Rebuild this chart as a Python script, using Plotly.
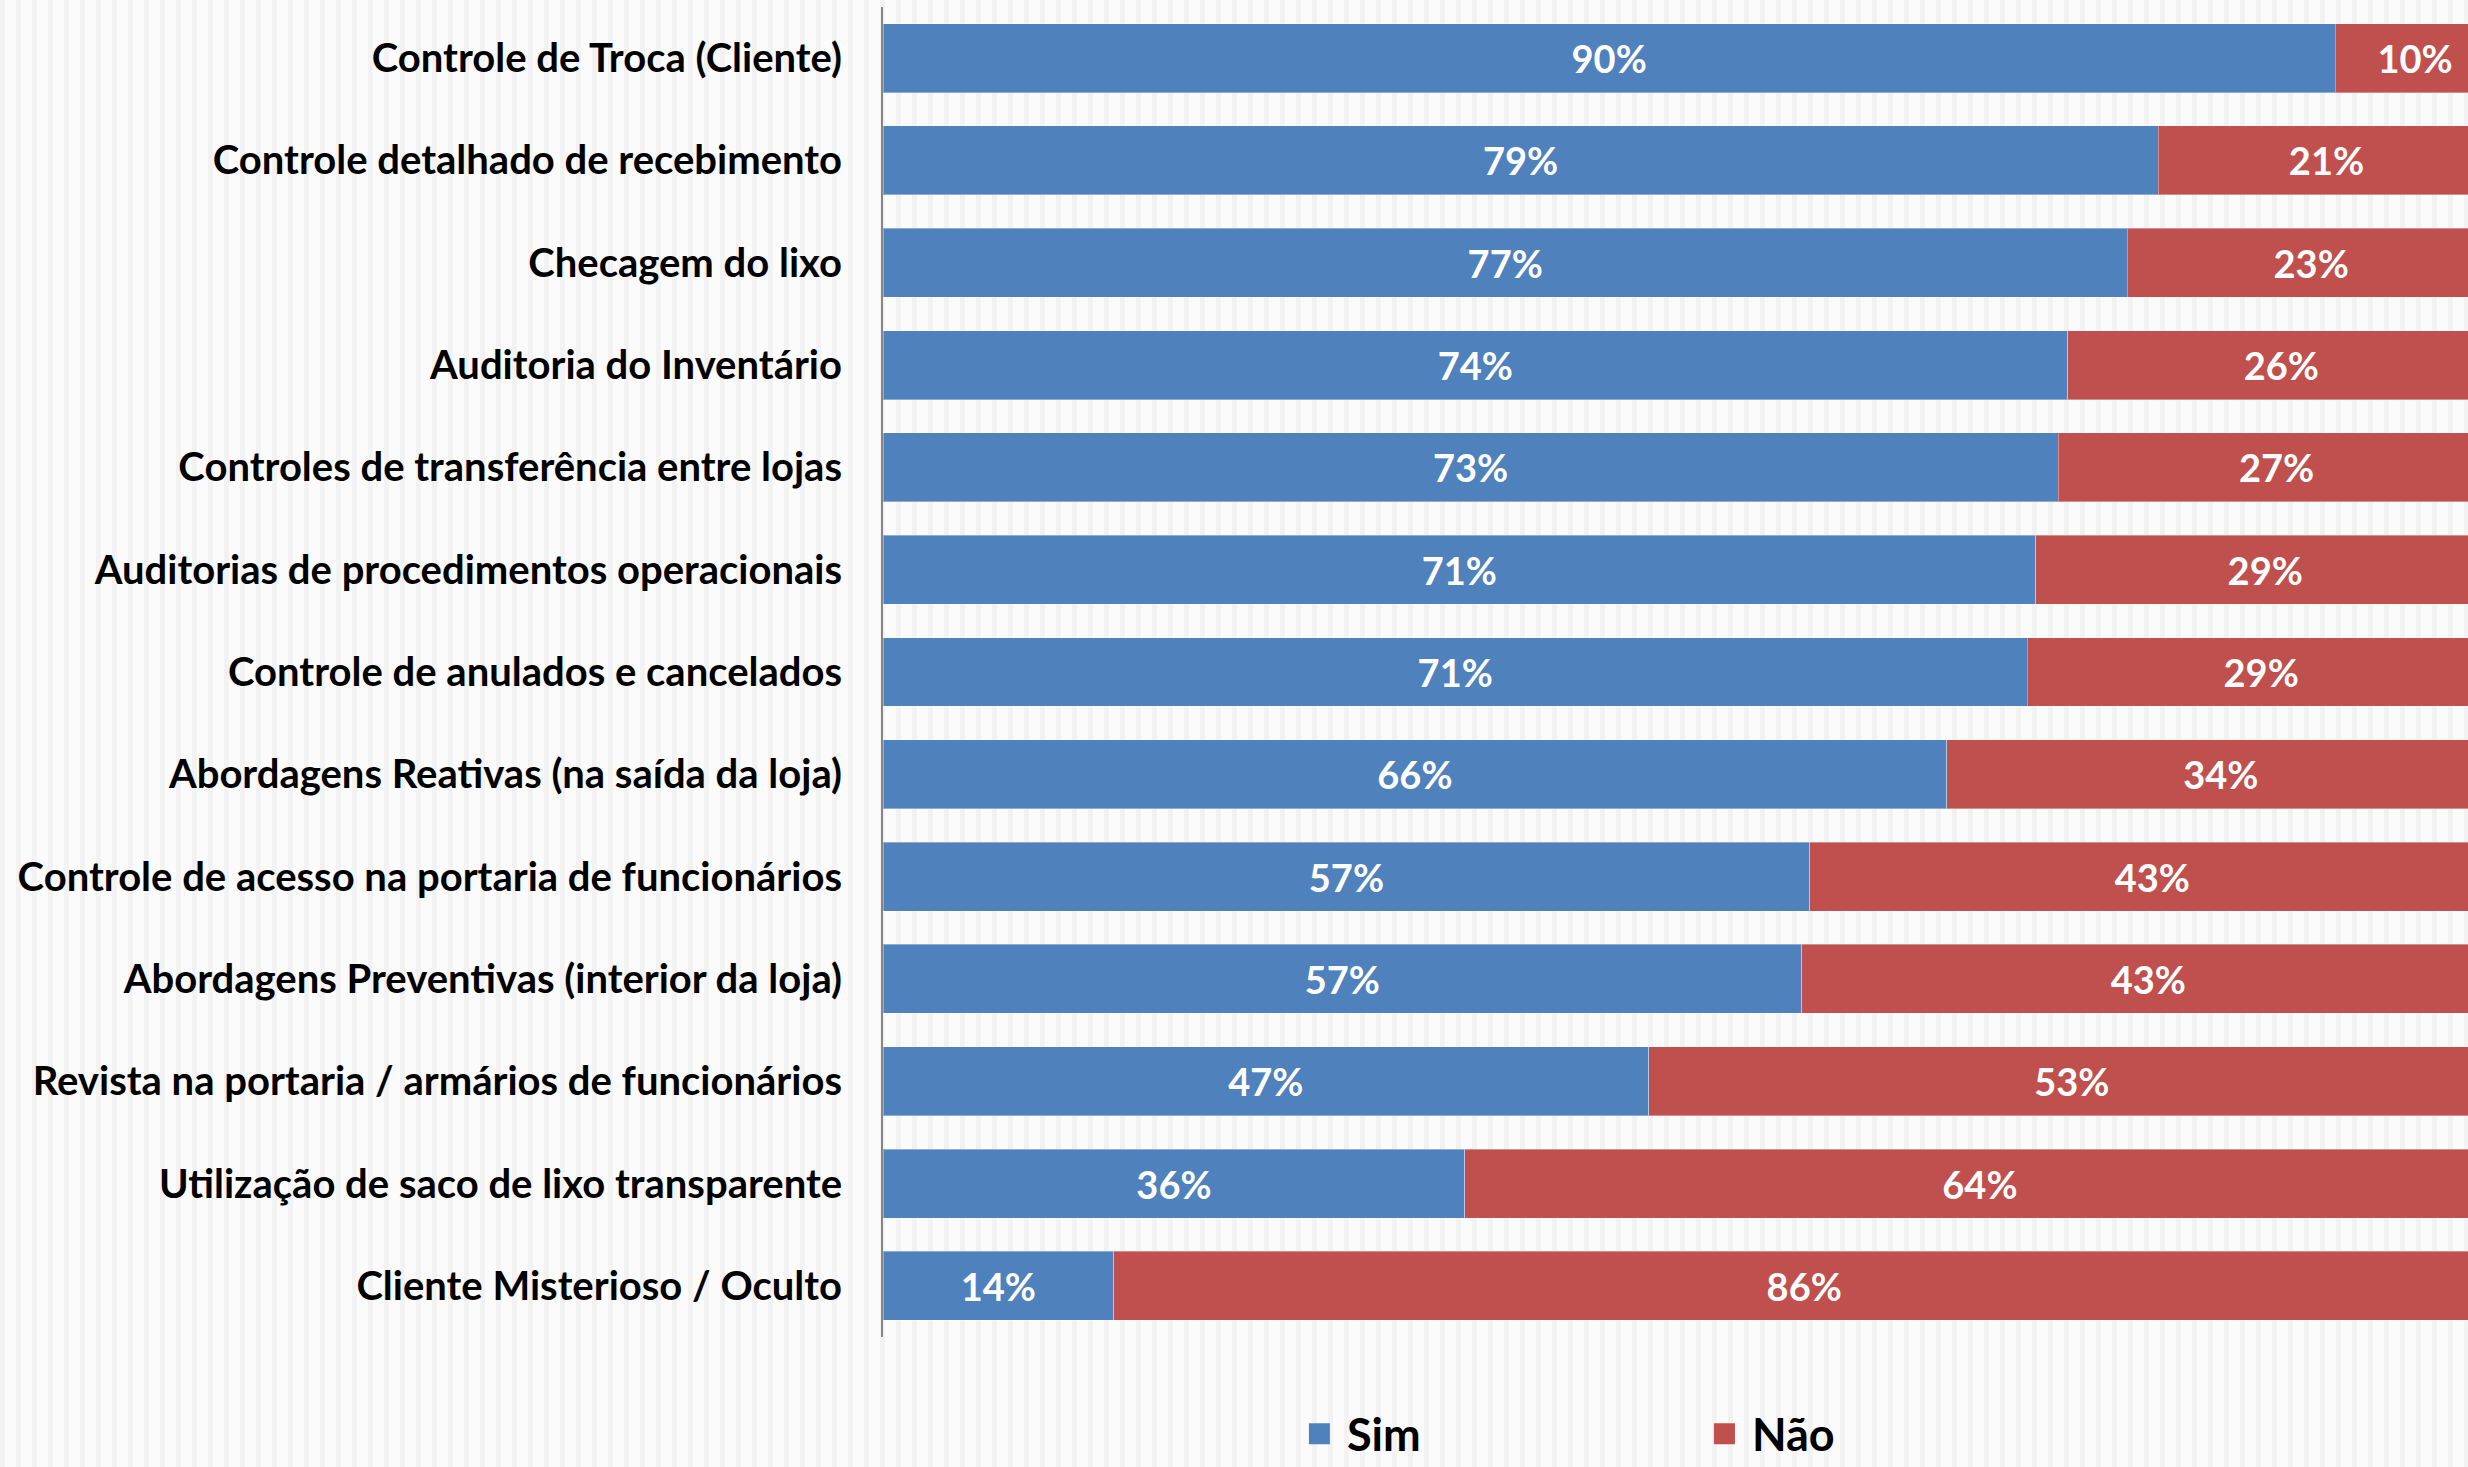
import plotly.graph_objects as go

categories = [
    "Controle de Troca (Cliente)",
    "Controle detalhado de recebimento",
    "Checagem do lixo",
    "Auditoria do Inventário",
    "Controles de transferência entre lojas",
    "Auditorias de procedimentos operacionais",
    "Controle de anulados e cancelados",
    "Abordagens Reativas (na saída da loja)",
    "Controle de acesso na portaria de funcionários",
    "Abordagens Preventivas (interior da loja)",
    "Revista na portaria / armários de funcionários",
    "Utilização de saco de lixo transparente",
    "Cliente Misterioso / Oculto",
]
sim_share = [90.1, 79.1, 77.2, 73.5, 72.9, 71.5, 71.0, 66.0, 57.5, 57.0, 47.5, 36.1, 14.3]
nao_share = [9.9, 20.9, 22.8, 26.5, 27.1, 28.5, 29.0, 34.0, 42.5, 43.0, 52.5, 63.9, 85.7]
sim_labels = [90, 79, 77, 74, 73, 71, 71, 66, 57, 57, 47, 36, 14]
nao_labels = [10, 21, 23, 26, 27, 29, 29, 34, 43, 43, 53, 64, 86]
series_names = ["Sim", "Não"]
series_colors = ["#4F81BD", "#C0504D"]

W, H = 2468, 1467
ML, MR, MT, MB = 883, 0, 7, 130
PW = W - ML - MR
PH = H - MT - MB
FONT = "Lato"

fig = go.Figure()
for name, color, vals, labs in zip(series_names, series_colors,
                                    [sim_share, nao_share], [sim_labels, nao_labels]):
    fig.add_trace(go.Bar(
        name=name, y=categories, x=vals, orientation="h",
        marker=dict(color=color, line=dict(color="rgba(255,255,255,0.35)", width=1)),
        text=[f"{v}%" for v in labs], textposition="inside",
        insidetextanchor="middle", constraintext="none",
        textfont=dict(family=FONT, size=38, color="white", weight="bold"),
        hoverinfo="skip", showlegend=False,
    ))
# legend entries (larger square swatches)
for name, color in zip(series_names, series_colors):
    fig.add_trace(go.Scatter(
        name=name, x=[None], y=[None], mode="markers",
        marker=dict(symbol="square", size=16, color=color,
                    line=dict(color=color, width=5)),
        hoverinfo="skip", showlegend=True,
    ))

# subtle vertical striped background (decoration)
shapes = []
pitch = 16
x = 0
while x < W:
    shapes.append(dict(
        type="rect", xref="paper", yref="paper", layer="below",
        x0=(x - ML) / PW, x1=(x + 5 - ML) / PW,
        y0=-MB / PH, y1=1 + MT / PH,
        fillcolor="rgba(0,0,0,0.035)", line=dict(width=0),
    ))
    x += pitch

fig.update_layout(
    width=W, height=H,
    margin=dict(l=ML, r=MR, t=MT, b=MB, pad=0, autoexpand=False),
    barmode="stack", bargap=0.326,
    paper_bgcolor="#fbfbfb", plot_bgcolor="rgba(0,0,0,0)",
    font=dict(family=FONT, color="black"),
    shapes=shapes,
    showlegend=True,
    legend=dict(
        orientation="h", x=0.258, xanchor="left", y=-(1434 - (H - MB)) / PH, yanchor="middle",
        font=dict(family=FONT, size=45, color="black", weight="bold"),
        entrywidth=345, entrywidthmode="pixels", itemwidth=45,
        bgcolor="rgba(0,0,0,0)", traceorder="normal",
    ),
    xaxis=dict(range=[0, 98.33], showgrid=False, zeroline=False,
               showticklabels=False, showline=False, fixedrange=True),
    yaxis=dict(autorange="reversed", showgrid=False, zeroline=False,
               showline=True, linecolor="#868686", linewidth=2,
               ticks="", ticklabelstandoff=31,
               tickfont=dict(family=FONT, size=40, color="black", weight="bold")),
)

fig.write_html("out.html", config={"displayModeBar": False},
               post_script="document.body.style.margin='0';document.body.style.overflow='hidden';")
